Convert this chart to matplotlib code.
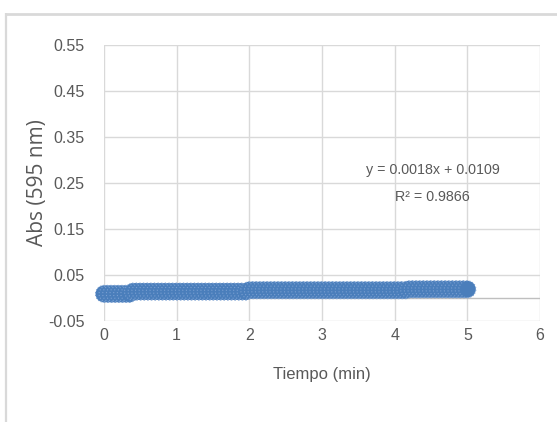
import matplotlib.pyplot as plt
from matplotlib.lines import Line2D

# absorbance readings, every 0.05 min
tiempo = [0.00, 0.05, 0.10, 0.15, 0.20, 0.25, 0.30, 0.35, 0.40, 0.45,
          0.50, 0.55, 0.60, 0.65, 0.70, 0.75, 0.80, 0.85, 0.90, 0.95,
          1.00, 1.05, 1.10, 1.15, 1.20, 1.25, 1.30, 1.35, 1.40, 1.45,
          1.50, 1.55, 1.60, 1.65, 1.70, 1.75, 1.80, 1.85, 1.90, 1.95,
          2.00, 2.05, 2.10, 2.15, 2.20, 2.25, 2.30, 2.35, 2.40, 2.45,
          2.50, 2.55, 2.60, 2.65, 2.70, 2.75, 2.80, 2.85, 2.90, 2.95,
          3.00, 3.05, 3.10, 3.15, 3.20, 3.25, 3.30, 3.35, 3.40, 3.45,
          3.50, 3.55, 3.60, 3.65, 3.70, 3.75, 3.80, 3.85, 3.90, 3.95,
          4.00, 4.05, 4.10, 4.15, 4.20, 4.25, 4.30, 4.35, 4.40, 4.45,
          4.50, 4.55, 4.60, 4.65, 4.70, 4.75, 4.80, 4.85, 4.90, 4.95, 5.00]
absorb = [0.009, 0.009, 0.009, 0.009, 0.009, 0.009, 0.009, 0.009, 0.014, 0.014,
          0.014, 0.014, 0.014, 0.014, 0.014, 0.014, 0.014, 0.014, 0.014, 0.014,
          0.014, 0.014, 0.014, 0.014, 0.014, 0.014, 0.014, 0.014, 0.014, 0.014,
          0.014, 0.014, 0.014, 0.014, 0.014, 0.014, 0.014, 0.014, 0.014, 0.014,
          0.017, 0.017, 0.017, 0.017, 0.017, 0.017, 0.017, 0.017, 0.017, 0.017,
          0.017, 0.017, 0.017, 0.017, 0.017, 0.017, 0.017, 0.017, 0.017, 0.017,
          0.017, 0.017, 0.017, 0.017, 0.017, 0.017, 0.017, 0.017, 0.017, 0.017,
          0.017, 0.017, 0.017, 0.017, 0.017, 0.017, 0.017, 0.017, 0.017, 0.017,
          0.017, 0.017, 0.017, 0.017, 0.019, 0.019, 0.019, 0.019, 0.019, 0.019,
          0.019, 0.019, 0.019, 0.019, 0.019, 0.019, 0.019, 0.019, 0.019, 0.019, 0.019]

x_ticks = [0, 1, 2, 3, 4, 5, 6]
y_ticks = [-0.05, 0.05, 0.15, 0.25, 0.35, 0.45, 0.55]
ecuacion = "y = 0.0018x + 0.0109"
r2 = "R² = 0.9866"

FONT = ["Liberation Sans", "DejaVu Sans"]
TXT = "#595959"
GRID = "#d9d9d9"

fig = plt.figure(figsize=(5.57, 4.22), dpi=100)
fig.patch.set_facecolor("white")

# chart-area border (left and top visible)
W, H = 557, 422
fig.add_artist(Line2D([5.5 / W, 5.5 / W], [0, 1 - 13 / H], color=GRID, lw=1.6,
                      transform=fig.transFigure, solid_capstyle="butt"))
fig.add_artist(Line2D([5 / W, 1], [1 - 13.5 / H, 1 - 13.5 / H], color=GRID, lw=2.0,
                      transform=fig.transFigure, solid_capstyle="butt"))

ax = fig.add_axes([104 / W, 1 - 321 / H, 436 / W, 276 / H])
ax.set_xlim(0, 6)
ax.set_ylim(-0.05, 0.55)
ax.set_xticks(x_ticks)
ax.set_yticks(y_ticks)
ax.set_xticklabels([str(t) for t in x_ticks], family=FONT, fontsize=11.5, color=TXT)
ax.set_yticklabels([f"{t:.2f}" for t in y_ticks], family=FONT, fontsize=11.5, color=TXT)
ax.tick_params(axis="y", length=0, pad=14)
ax.tick_params(axis="x", length=0, pad=5)
ax.grid(True, color=GRID, linewidth=1.0)
ax.set_axisbelow(True)
for s in ax.spines.values():
    s.set_visible(False)
ax.axhline(0, color="#bfbfbf", linewidth=1.0, zorder=1)

ax.scatter(tiempo, absorb, s=150, color="#4a7ebb", edgecolors="#7aa0d2",
           linewidths=0.8, linestyle=":", zorder=3, clip_on=False)

ax.text(4.53, 0.278, ecuacion, family=FONT, fontsize=10.3, color=TXT,
        ha="center", va="center")
ax.text(4.52, 0.22, r2, family=FONT, fontsize=10.3, color=TXT,
        ha="center", va="center")

ax.set_xlabel("Tiempo (min)", family=FONT, fontsize=12, color=TXT, labelpad=17)
ax.set_ylabel("Abs (595 nm)", fontsize=15, color=TXT, labelpad=0,
              family=["Open Sans", "DejaVu Sans"])

fig.savefig("out.png", dpi=100, facecolor="white")
